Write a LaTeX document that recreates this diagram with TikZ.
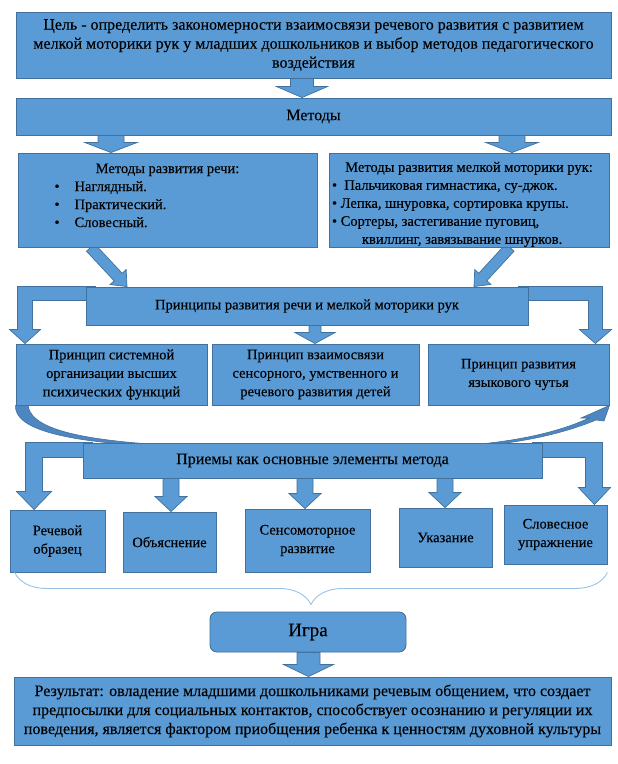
\documentclass[tikz,border=0pt]{standalone}
\usepackage{fontspec}
\setmainfont{Liberation Serif}[FakeBold=0.25]
\usetikzlibrary{calc,backgrounds,decorations.pathreplacing}

\definecolor{blockfill}{RGB}{91,155,213}
\definecolor{blockline}{RGB}{65,113,156}
\definecolor{curvefill}{RGB}{78,134,194}
\definecolor{bracecol}{RGB}{155,194,230}

\tikzset{
  box/.style={draw=blockline, fill=blockfill, line width=0.9pt, inner sep=0pt,
    align=center, font=\fontsize{14.5}{18.5}\selectfont},
  bigtext/.style={font=\fontsize{16}{19}\selectfont},
  arrowbody/.style={draw=blockline, fill=blockfill, line width=0.7pt, line join=miter},
  bracestyle/.style={draw=bracecol, line width=0.9pt, decorate,
    decoration={brace, mirror, amplitude=32pt}}
}

% block arrow: start, end, half shaft, half head, head length
\newcommand{\blockarrow}[5]{%
  \coordinate (bas) at #1;
  \coordinate (bae) at #2;
  \coordinate (bah) at ($(bae)!#5!(bas)$);
  \draw[arrowbody] ($(bas)!#3!90:(bae)$) -- ($(bah)!#3!90:(bae)$)
    -- ($(bah)!#4!90:(bae)$) -- (bae) -- ($(bah)!#4!-90:(bae)$)
    -- ($(bah)!#3!-90:(bae)$) -- ($(bas)!#3!-90:(bae)$) -- cycle;}
% text block moved up or down inside its box
\newcommand{\shiftedtext}[3]{\raisebox{#1}[36pt][36pt]{\parbox{#2}{\baselineskip=18pt #3}}}

\begin{document}
\begin{tikzpicture}[x=1pt,y=-1pt]
\useasboundingbox (0,0) rectangle (618,764);

% top part
\node[box, bigtext, minimum width=595, minimum height=66] (goal) at (313.5,45)
  {Цель - определить закономерности взаимосвязи речевого развития с развитием\\
   мелкой моторики рук у младших дошкольников и выбор методов педагогического\\
   воздействия};
\node[box, bigtext, minimum width=595, minimum height=37] (methods) at (313.5,116.5) {Методы};
\node[box, minimum width=299, minimum height=94] (speech) at (167.5,200)
  {\shiftedtext{1pt}{280pt}{{\centering Методы развития речи:\par}\raggedright
   \hspace*{27pt}\textbullet\hspace{15pt}Наглядный.\par
   \hspace*{27pt}\textbullet\hspace{15pt}Практический.\par
   \hspace*{27pt}\textbullet\hspace{15pt}Словесный.\par}};
\node[box, minimum width=280, minimum height=94] (motor) at (469,200)
  {\shiftedtext{-8pt}{274pt}{{\centering Методы развития мелкой моторики рук:\par}\raggedright
   \textbullet\ \ Пальчиковая гимнастика, су-джок.\par
   \textbullet\ Лепка, шнуровка, сортировка крупы.\par
   \textbullet\ Сортеры, застегивание пуговиц,\par
   \hspace*{30pt}квиллинг, завязывание шнурков.\par}};

% principles
\node[box, minimum width=442, minimum height=38] (princ) at (307,306) {Принципы развития речи и мелкой моторики рук};
\node[box, minimum width=191, minimum height=61] (sysp) at (111.5,374.5)
  {Принцип системной\\организации высших\\психических функций};
\node[box, minimum width=207, minimum height=61] (relp) at (315.5,374.5)
  {Принцип взаимосвязи\\сенсорного, умственного и\\речевого развития детей};
\node[box, minimum width=181, minimum height=61] (langp) at (518.5,374.5)
  {Принцип развития\\языкового чутья};

% techniques
\node[box, bigtext, minimum width=459, minimum height=35] (recep) at (312.5,460.5) {Приемы как основные элементы метода};
\node[box, minimum width=95, minimum height=62] (b1) at (57.5,541) {Речевой\\образец};
\node[box, minimum width=93, minimum height=60] (b2) at (169.5,542) {Объяснение};
\node[box, minimum width=125, minimum height=63] (b3) at (307.5,540.5) {Сенсомоторное\\развитие};
\node[box, minimum width=93, minimum height=59] (b4) at (445.5,537.5) {Указание};
\node[box, minimum width=103, minimum height=59] (b5) at (555.5,534.5) {Словесное\\упражнение};

% result
\node[box, rounded corners=7, minimum width=196, minimum height=40, font=\fontsize{19}{22}\selectfont] (game) at (308,632) {Игра};
\node[box, bigtext, minimum width=597, minimum height=68] (result) at (312.5,711)
  {Результат: овладение младшими дошкольниками речевым общением, что создает\\
   предпосылки для социальных контактов, способствует осознанию и регуляции их\\
   поведения, является фактором приобщения ребенка к ценностям духовной культуры};

\draw[bracestyle] ([xshift=5]b1.south west) -- (b5.south east |- b1.south);

\begin{scope}[on background layer]
\blockarrow{([xshift=-11.5]goal.south)}{([xshift=-11.5]methods.north)}{11.5pt}{25.5pt}{11pt}
\blockarrow{([xshift=-202.5]methods.south)}{([xshift=-202.5]methods.south |- speech.north)}{13pt}{26pt}{10pt}
\blockarrow{([xshift=198.5]methods.south)}{([xshift=198.5]methods.south |- motor.north)}{13pt}{26pt}{10pt}
\blockarrow{([xshift=-77]speech.south)}{([xshift=-180]princ.north)}{5.5pt}{11pt}{13pt}
\blockarrow{([xshift=41]motor.south)}{([xshift=167]princ.north)}{5.5pt}{11pt}{13pt}
\blockarrow{([xshift=8]princ.south)}{([xshift=-0.5]relp.north)}{6pt}{20pt}{11pt}
\blockarrow{([xshift=1.5]b2.north |- recep.south)}{([xshift=1.5]b2.north)}{8pt}{16pt}{15pt}
\blockarrow{([xshift=-2.5]b3.north |- recep.south)}{([xshift=-2.5]b3.north)}{8pt}{16pt}{15pt}
\blockarrow{([xshift=-0.5]b4.north |- recep.south)}{([xshift=-0.5]b4.north)}{8pt}{16pt}{15pt}
\blockarrow{([xshift=0.5]game.south)}{([xshift=0.5]game.south |- result.north)}{11.5pt}{25pt}{12pt}
% elbow arrows
\draw[arrowbody] (princ.north west) ++(10,0) -- ++(-78,0) -- ++(0,43) -- ++(-8,0) -- ++(15.5,14)
  -- ++(15.5,-14) -- ++(-8,0) -- ++(0,-29) -- ++(63,0) -- cycle;
\draw[arrowbody] (princ.north east) ++(-10,0) -- ++(84,0) -- ++(0,43) -- ++(9,0) -- ++(-16,14)
  -- ++(-16,-14) -- ++(9,0) -- ++(0,-29) -- ++(-62,0) -- cycle;
\draw[arrowbody] (recep.north west) ++(10,0) -- ++(-67,0) -- ++(0,49) -- ++(-9,0) -- ++(17.5,18)
  -- ++(17.5,-18) -- ++(-9,0) -- ++(0,-34) -- ++(50,0) -- cycle;
\draw[arrowbody] (recep.north east) ++(-10,0) -- ++(70,0) -- ++(0,45) -- ++(8,0) -- ++(-16,17)
  -- ++(-16,-17) -- ++(7,0) -- ++(0,-30) -- ++(-53,0) -- cycle;
% curved arrow under the techniques bar
\draw[fill=curvefill, draw=blockline, line width=0.6pt] (sysp.south west) .. controls (14,428) and (60,441) .. (150,446)
  -- (480,446) .. controls (535,441) and (572,430) .. (596,420) -- (604,421) -- (langp.south east)
  -- (581,418) -- (589,418) .. controls (568,428) and (532,439) .. (480,444) -- (150,444)
  .. controls (65,438) and (30,425) .. (28,405) -- cycle;
\end{scope}
\end{tikzpicture}
\end{document}
